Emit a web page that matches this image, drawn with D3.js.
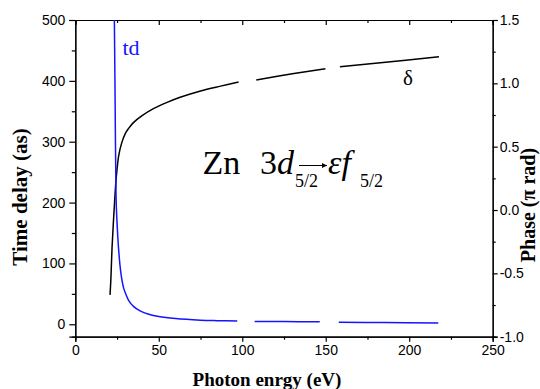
<!DOCTYPE html>
<html>
<head>
<meta charset="utf-8">
<script src="https://cdn.jsdelivr.net/npm/d3@7"></script>
<style>
  body { margin: 0; background: #fff; }
  .tick text { font-family: "Liberation Sans", Arial, sans-serif; font-size: 14px; fill: #000; }
  .domain, .tick line { stroke: #000; stroke-width: 1.2px; }
</style>
</head>
<body>
<div id="chart"></div>
<script>
// time delay td (as), three pieces with gaps
var tdEnergy1 = [23.0, 23.4, 23.9, 24.4, 24.9, 25.4, 25.9, 26.8, 27.8, 29.0, 30.8, 32.0, 35.0, 38.8, 44.0, 50.0, 60.0, 75.0, 85.0, 97.0];
var tdValue1  = [560, 500, 350, 210, 172, 146, 125, 96, 75, 59, 46, 39, 29, 22, 16.5, 12.7, 9.4, 6.8, 6.0, 5.4];
var tdEnergy2 = [107.4, 125, 146.4];
var tdValue2  = [4.6, 4.4, 4.3];
var tdEnergy3 = [157.8, 185, 217.4];
var tdValue3  = [3.3, 2.8, 2.3];

// phase delta (pi rad)
var phEnergy1 = [20.8, 21.3, 22.0, 22.8, 23.6, 24.3, 25.0, 26.0, 27.8, 30.0, 32.0, 34.8, 40.0, 46.8, 55.0, 62.8, 75.0, 87.0, 97.8];
var phValue1  = [-0.67, -0.55, -0.30, -0.10, 0.08, 0.22, 0.32, 0.43, 0.53, 0.605, 0.645, 0.69, 0.745, 0.80, 0.85, 0.89, 0.94, 0.978, 1.01];
var phEnergy2 = [108.4, 130, 149.8];
var phValue2  = [1.026, 1.075, 1.115];
var phEnergy3 = [158.5, 182.8, 217.8];
var phValue3  = [1.131, 1.163, 1.21];

var xMajor = [0, 50, 100, 150, 200, 250];
var xMinor = [25, 75, 125, 175, 225];
var yMajor = [0, 100, 200, 300, 400, 500];
var yMinor = [50, 150, 250, 350, 450];
var rMajor = [-1.0, -0.5, 0.0, 0.5, 1.0, 1.5];
var rMinor = [-0.75, -0.25, 0.25, 0.75, 1.25];

var W = 540, H = 389;
var margin = {top: 20, right: 47.3, bottom: 52.3, left: 75.3};
var width = W - margin.left - margin.right;
var height = H - margin.top - margin.bottom;

var svg = d3.select("#chart").append("svg")
  .attr("width", W).attr("height", H);

var g = svg.append("g")
  .attr("transform", "translate(" + margin.left + "," + margin.top + ")");

var x = d3.scaleLinear().domain([0, 250]).range([0, width]);
var y = d3.scaleLinear().domain([-20.4, 500]).range([height, 0]);
var yR = d3.scaleLinear().domain([-1, 1.5]).range([height, 0]);

svg.append("defs").append("clipPath").attr("id", "clip")
  .append("rect").attr("width", width).attr("height", height);

// axes: major with labels, minor shorter
g.append("g").attr("transform", "translate(0," + height + ")")
  .call(d3.axisBottom(x).tickValues(xMajor).tickSize(5).tickPadding(3).tickFormat(d3.format("d")));
g.append("g").attr("transform", "translate(0," + height + ")")
  .call(d3.axisBottom(x).tickValues(xMinor).tickSize(3).tickFormat(""));
g.append("g")
  .call(d3.axisTop(x).tickValues(xMajor).tickSize(-5).tickFormat(""));
g.append("g")
  .call(d3.axisTop(x).tickValues(xMinor).tickSize(-3).tickFormat(""));

g.append("g")
  .call(d3.axisLeft(y).tickValues(yMajor).tickSize(6).tickPadding(4).tickFormat(d3.format("d")));
g.append("g")
  .call(d3.axisLeft(y).tickValues(yMinor).tickSize(3.5).tickFormat(""));

g.append("g").attr("transform", "translate(" + width + ",0)")
  .call(d3.axisRight(yR).tickValues(rMajor).tickSize(5).tickPadding(2).tickFormat(d3.format(".1f")));
g.append("g").attr("transform", "translate(" + width + ",0)")
  .call(d3.axisRight(yR).tickValues(rMinor).tickSize(3).tickFormat(""));

g.selectAll(".tick text").text(function() { return this.textContent.replace("\u2212", "-"); });

// curves
var tdLine = d3.line().x(function(d) { return x(d[0]); }).y(function(d) { return y(d[1]); }).curve(d3.curveCatmullRom.alpha(0.5));
var phLine = d3.line().x(function(d) { return x(d[0]); }).y(function(d) { return yR(d[1]); }).curve(d3.curveCatmullRom.alpha(0.5));

var tdSegs = [d3.zip(tdEnergy1, tdValue1), d3.zip(tdEnergy2, tdValue2), d3.zip(tdEnergy3, tdValue3)];
var phSegs = [d3.zip(phEnergy1, phValue1), d3.zip(phEnergy2, phValue2), d3.zip(phEnergy3, phValue3)];

var plot = g.append("g").attr("clip-path", "url(#clip)");

plot.selectAll(".ph").data(phSegs).enter().append("path")
  .attr("class", "ph")
  .attr("fill", "none").attr("stroke", "#000").attr("stroke-width", 1.5)
  .attr("d", phLine);

plot.selectAll(".td").data(tdSegs).enter().append("path")
  .attr("class", "td")
  .attr("fill", "none").attr("stroke", "#1414ff").attr("stroke-width", 1.5)
  .attr("d", tdLine);

// axis titles
var serif = "'Liberation Serif', 'Times New Roman', serif";
svg.append("text")
  .attr("x", 267).attr("y", 386)
  .attr("text-anchor", "middle")
  .attr("font-family", serif).attr("font-weight", "bold").attr("font-size", "19px")
  .text("Photon enrgy (eV)");

svg.append("text")
  .attr("transform", "translate(27,197) rotate(-90)")
  .attr("text-anchor", "middle")
  .attr("font-family", serif).attr("font-weight", "bold").attr("font-size", "21px")
  .text("Time delay (as)");

svg.append("text")
  .attr("transform", "translate(535,205) rotate(-90)")
  .attr("text-anchor", "middle")
  .attr("font-family", serif).attr("font-weight", "bold").attr("font-size", "20px")
  .text("Phase (\u03c0 rad)");

// curve labels
svg.append("text")
  .attr("x", 122.5).attr("y", 54.5)
  .attr("font-family", serif).attr("font-size", "22px").attr("fill", "#1414ff")
  .text("td");
svg.append("text")
  .attr("x", 403).attr("y", 85)
  .attr("font-family", serif).attr("font-size", "21px")
  .text("\u03b4");

// transition label
svg.append("text")
  .attr("x", 202.5).attr("y", 174)
  .attr("font-family", serif).attr("font-size", "34px")
  .text("Zn");
svg.append("text")
  .attr("x", 260).attr("y", 174)
  .attr("font-family", serif).attr("font-size", "34px")
  .html("3<tspan font-style='italic'>d</tspan>");
svg.append("text")
  .attr("x", 295).attr("y", 187)
  .attr("font-family", serif).attr("font-size", "18px")
  .text("5/2");
svg.append("text")
  .attr("x", 328).attr("y", 174)
  .attr("font-family", serif).attr("font-size", "34px").attr("font-style", "italic")
  .text("\u03b5f");
svg.append("text")
  .attr("x", 360).attr("y", 187)
  .attr("font-family", serif).attr("font-size", "18px")
  .text("5/2");

svg.append("defs").append("marker")
  .attr("id", "arrow").attr("viewBox", "0 0 10 10")
  .attr("refX", 10).attr("refY", 5)
  .attr("markerWidth", 6).attr("markerHeight", 5)
  .attr("markerUnits", "userSpaceOnUse")
  .attr("orient", "auto")
  .append("path").attr("d", "M0,0L10,5L0,10z").attr("fill", "#000");
svg.append("line")
  .attr("x1", 299).attr("y1", 165.5).attr("x2", 327).attr("y2", 165.5)
  .attr("stroke", "#000").attr("stroke-width", 1)
  .attr("marker-end", "url(#arrow)");
</script>
</body>
</html>
